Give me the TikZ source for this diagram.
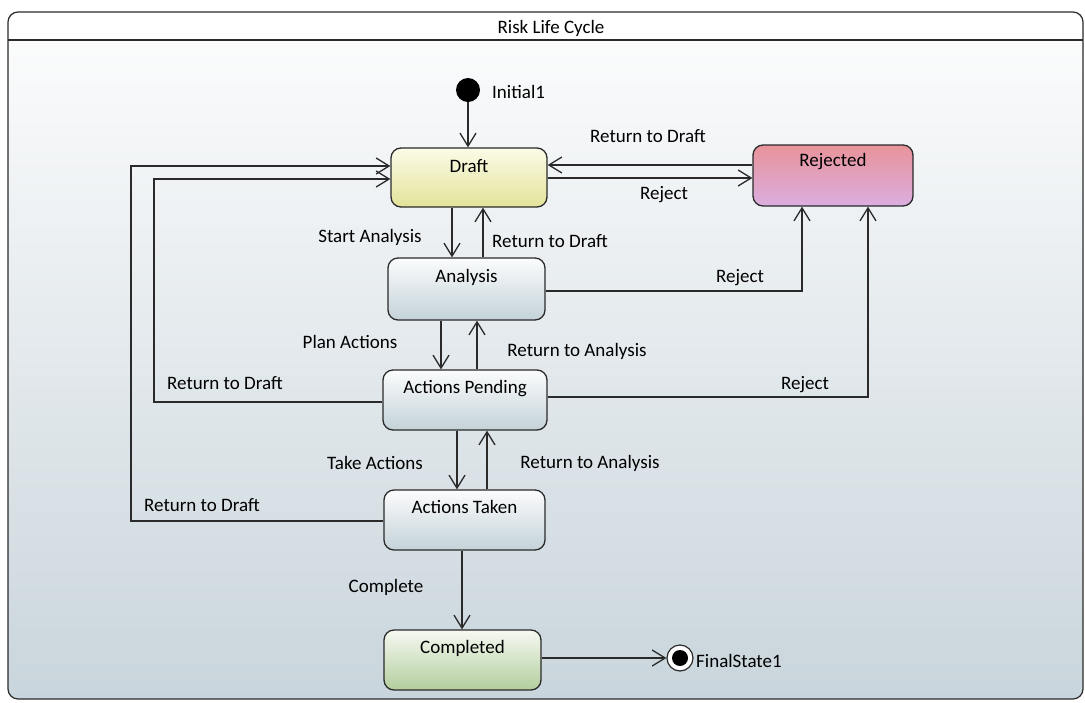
\documentclass[tikz,border=0pt]{standalone}
\usepackage{fontspec}
\setmainfont{Carlito}
\usetikzlibrary{arrows.meta}
\definecolor{bgtop}{HTML}{FDFDFD}
\definecolor{bgbot}{HTML}{C9D5DC}
\definecolor{edge}{HTML}{2A2A2A}
\definecolor{drtop}{HTML}{FBFBE8}
\definecolor{drbot}{HTML}{E3E39A}
\definecolor{rjtop}{HTML}{E8939A}
\definecolor{rjbot}{HTML}{DBAEE0}
\definecolor{sttop}{HTML}{FBFCFD}
\definecolor{stbot}{HTML}{C4D2D8}
\definecolor{cptop}{HTML}{F6F9F1}
\definecolor{cpbot}{HTML}{B3CE9E}
\tikzset{
  statebox/.style={draw=edge, line width=1.3pt, rounded corners=10pt, rectangle,
    inner xsep=4pt, inner ysep=9pt, text height=14pt, text depth=25pt,
    font=\fontsize{19}{22}\selectfont, top color=sttop, bottom color=stbot},
  lbl/.style={font=\fontsize{19}{22}\selectfont, inner sep=1pt},
  arr/.style={draw=edge, line width=1.3pt, -{Straight Barb[length=13pt,width=16pt,line width=1.3pt]}},
}
\begin{document}
\begin{tikzpicture}[x=1pt,y=-1pt]
\useasboundingbox (0,0) rectangle (1085,702);
\fill[white] (0,0) rectangle (1085,702);
% frame
\shade[top color=bgtop, bottom color=bgbot, rounded corners=10pt] (8,12) rectangle (1083,699);
\fill[white, rounded corners=10pt] (8,12) rectangle (1083,40);
\fill[white] (8,30) rectangle (1083,40);
\draw[edge, line width=1.2pt, rounded corners=10pt] (8,12) rectangle (1083,699);
\draw[edge, line width=1.2pt] (8,40) -- (1083,40);
\node[lbl] (title) at (551,28) {Risk Life Cycle};

% states
\node[statebox, minimum width=156pt, minimum height=59pt, top color=drtop, bottom color=drbot] (draft) at (469,177.5) {Draft};
\node[statebox, minimum width=160pt, minimum height=61pt, top color=rjtop, bottom color=rjbot, text height=12pt, text depth=30pt] (rejected) at (833,175.5) {Rejected};
\node[statebox, minimum width=157pt, minimum height=62pt, text height=12pt] (analysis) at (466.5,289) {Analysis};
\node[statebox, minimum width=164pt, minimum height=60pt, text height=12pt] (pending) at (465,400) {Actions Pending};
\node[statebox, minimum width=161pt, minimum height=60pt, text height=12pt] (taken) at (464.5,520) {Actions Taken};
\node[statebox, minimum width=157pt, minimum height=60pt, text height=12pt, top color=cptop, bottom color=cpbot] (completed) at (462.5,660) {Completed};

% pseudo states
\node[circle, fill=black, minimum size=24pt, inner sep=0pt] (init) at (468,90) {};
\node[lbl, anchor=west] (initlbl) at (491,92) {Initial1};
\node[circle, draw=edge, line width=1.2pt, fill=white, minimum size=26pt, inner sep=0pt] (final) at (680,658) {};
\fill[black] (final) circle (8pt);
\node[lbl, anchor=west] (finallbl) at (695,661) {FinalState1};

% corner coordinates
\coordinate (c1) at (154,179);
\coordinate (c2) at (131,166);

% connectors
\draw[arr] (init) -- (init |- draft.north);
\draw[arr] ([yshift=10.5pt]rejected.west) -- ([yshift=12.5pt]draft.east);
\draw[arr] ([yshift=-0.5pt]draft.east) -- ([yshift=-2.5pt]rejected.west);
\draw[arr] ([xshift=-17pt]draft.south) -- ([xshift=-14.5pt]analysis.north);
\draw[arr] ([xshift=16.5pt]analysis.north) -- ([xshift=14pt]draft.south);
\draw[arr] ([xshift=-25.5pt]analysis.south) -- ([xshift=-24pt]pending.north);
\draw[arr] ([xshift=12pt]pending.north) -- ([xshift=10.5pt]analysis.south);
\draw[arr] ([xshift=-8pt]pending.south) -- ([xshift=-7.5pt]taken.north);
\draw[arr] ([xshift=22.5pt]taken.north) -- ([xshift=22pt]pending.south);
\draw[arr] ([xshift=-2.5pt]taken.south) -- ([xshift=-0.5pt]completed.north);
\draw[arr] ([yshift=2pt]completed.east) -- (final.west);
\draw[arr] ([yshift=-2pt]analysis.east) -| ([xshift=-31pt]rejected.south);
\draw[arr] ([yshift=3pt]pending.east) -| ([xshift=35pt]rejected.south);
\draw[arr] ([yshift=-2pt]pending.west) -| (c1) -- ([yshift=-1.5pt]draft.west);
\draw[arr] ([yshift=-1pt]taken.west) -| (c2) -- ([yshift=11.5pt]draft.west);

% connector labels
\node[lbl] (l1) at (648,136) {Return to Draft};
\node[lbl] (l2) at (664,195) {Reject};
\node[lbl] (l3) at (370,237) {Start Analysis};
\node[lbl] (l4) at (550,241) {Return to Draft};
\node[lbl] (l5) at (740,278) {Reject};
\node[lbl] (l6) at (350,342) {Plan Actions};
\node[lbl] (l7) at (577,351) {Return to Analysis};
\node[lbl] (l8) at (225,383) {Return to Draft};
\node[lbl] (l9) at (805,385) {Reject};
\node[lbl] (l10) at (375,463) {Take Actions};
\node[lbl] (l11) at (590,463) {Return to Analysis};
\node[lbl] (l12) at (202,505) {Return to Draft};
\node[lbl] (l13) at (386,587) {Complete};
\end{tikzpicture}
\end{document}
